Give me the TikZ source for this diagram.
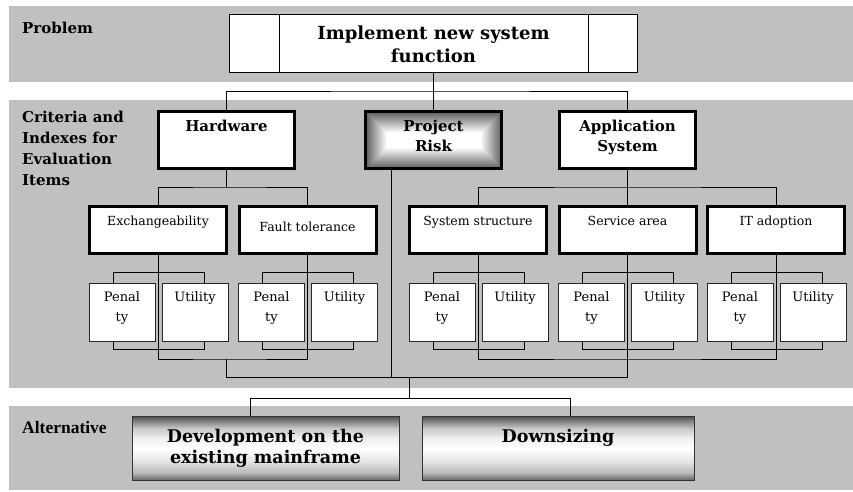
\documentclass[tikz,border=0pt]{standalone}
\usepackage{fontspec}
\setmainfont{DejaVu Serif}
\newfontfamily\altfont{Liberation Serif}
\usetikzlibrary{
    positioning,
    backgrounds
    }
\definecolor{silver}{RGB}{192,192,192}
% only the 25bp..75bp part of a shading covers the path
\pgfdeclareverticalshading{metal}{100bp}{color(0bp)=(black!62); color(25bp)=(black!62); color(31bp)=(black!28); color(40bp)=(black!10); color(50bp)=(white); color(58bp)=(black!6); color(66bp)=(black!22); color(75bp)=(black!68); color(100bp)=(black!68)}
\pgfdeclarelayer{bands}
\pgfsetlayers{bands,background,main}

\begin{document}
\begin{tikzpicture}[x=1pt, y=-1pt]
% chktex-file 1
\tikzset{band/.style = { fill=silver, draw=none } }

\tikzset{link/.style = { draw=black, line width=0.9pt } }

\tikzset{heading/.style =
        {
            anchor=base west,
            inner sep=0pt,
            align=left,
            font=\bfseries\fontsize{15}{21}\selectfont
        }
}

\tikzset{intext/.style = { anchor=base, inner sep=0pt, align=center } }

\tikzset{goal/.style =
        {
            rectangle,
            draw,
            fill=white,
            line width=0.9pt,
            minimum width=408pt,
            minimum height=58pt,
            inner sep=0pt
        }
}

\tikzset{index/.style =
        {
            rectangle,
            draw,
            fill=white,
            line width=3pt,
            minimum width=136pt,
            minimum height=57pt,
            inner sep=0pt
        }
}

% base of a two line label is the base of its last line
\tikzset{index text/.style = { intext, yshift=-41.5pt, font=\bfseries\fontsize{15}{20}\selectfont } }

\tikzset{risky/.style =
        {
            index,
            path picture={
                    \foreach \i in {0,...,29} {
                        \pgfmathtruncatemacro\p{max(0,62-3*\i)}
                        \fill[black!\p] ([shift={(\i,\i)}]path picture bounding box.north west)
                            rectangle ([shift={(-\i,-\i)}]path picture bounding box.south east);
                    }
                }
        }
}

\tikzset{item/.style = { index, minimum width=137pt, minimum height=47pt } }

\tikzset{score/.style =
        {
            rectangle,
            draw=black!85,
            fill=white,
            line width=0.9pt,
            minimum width=66pt,
            minimum height=58pt,
            inner sep=0pt
        }
}

\tikzset{score text/.style = { intext, yshift=-19pt, font=\fontsize{13}{20}\selectfont } }

\tikzset{option/.style =
        {
            rectangle,
            draw=black!80,
            line width=1pt,
            shade,
            shading=metal,
            minimum height=64pt,
            inner sep=0pt
        }
}

\tikzset{option text/.style = { intext, yshift=-26.5pt, font=\bfseries\fontsize{17.5}{21}\selectfont } }

		\useasboundingbox (0,0) rectangle (853,491);

		\begin{pgfonlayer}{bands}
			\fill[band] (9,6) rectangle (853,82);
			\fill[band] (9,100) rectangle (853,388);
			\fill[band] (9,406) rectangle (853,490);
		\end{pgfonlayer}

		\node[heading] (problem) at (22,33) {Problem};
		\node[heading] (criteria) at (22,185) {Criteria and\\Indexes for\\Evaluation\\Items};
		\node[heading, font=\altfont\bfseries\fontsize{17.5}{20}\selectfont] (alternative) at (22,433) {Alternative};

		\node[goal, label={[intext, yshift=-48.5pt, font=\bfseries\fontsize{18}{23}\selectfont]north:Implement new system\\function}] (goal) at (433.5,43.5) {};
		\draw[line width=0.9pt] ([xshift=-154.5pt]goal.north) -- ([xshift=-154.5pt]goal.south);
		\draw[line width=0.9pt] ([xshift=154.5pt]goal.north) -- ([xshift=154.5pt]goal.south);

		\node[index, label={[index text, yshift=20pt]north:Hardware}] (hw) at (226.5,140) {};
		\node[risky, label={[index text]north:Project\\Risk}] (risk) at (433.5,140) {};
		\node[index, label={[index text]north:Application\\System}] (app) at (627.5,140) {};

		\foreach \n / \c / \txt / \dy in
			{exch/158/Exchangeability/20.5,
				fault/307.5/Fault tolerance/26.5,
				sys/478/System structure/20.5,
				serv/627.5/Service area/20.5,
				it/776/IT adoption/20.5}
		{
			\node[item, label={[intext, yshift=-\dy pt, font=\fontsize{12.5}{16}\selectfont]north:\txt}] (\n) at (\c,230) {};
			\node[score, label={[score text, yshift=-20pt]north:Penal\\ty}] (\n-pen) at (\c-36,312) {};
			\node[score, label={[score text]north:Utility}] (\n-uti) at (\c+37,312) {};
		}

		\node[option, minimum width=267pt, label={[option text, yshift=-21pt]north:Development on the\\existing mainframe}] (dev) at (265.5,448.5) {};
		\node[option, minimum width=272pt, label={[option text]north:Downsizing}] (down) at (558,448.5) {};

		\begin{scope}[on background layer]
			\coordinate (top-split) at (433.5,91);
			\draw[link] (goal.south) -- (risk.north);
			\draw[link] (hw.north) |- (top-split) -| (app.north);

			\coordinate (hw-split) at (226.5,187);
			\draw[link] (hw.south) -- (hw-split);
			\draw[link] (exch.north) |- (hw-split) -| (fault.north);

			\coordinate (app-split) at (627.5,187);
			\draw[link] (app.south) -- (serv.north);
			\draw[link] (sys.north) |- (app-split) -| (it.north);

			\foreach \n in {exch, fault, sys, serv, it}
			{
				\draw[link] ([xshift=-9pt]\n-pen.north) -- ++(0,-10) -| ([xshift=9pt]\n-uti.north);
				\draw[link] ([xshift=-9pt]\n-pen.south) -- ++(0,8) -| ([xshift=9pt]\n-uti.south);
			}

			\coordinate (hw-join) at (226.5,359);
			\coordinate (app-join) at (627.5,359);
			\coordinate (all-join) at (409,377);
			\draw[link] (exch.south) |- (hw-join) -| (fault.south);
			\draw[link] (sys.south) |- (app-join) -| (it.south);
			\draw[link] (hw-join) |- (all-join) -| (serv.south);
			\draw[link] ([xshift=-42pt]risk.south) -- ([xshift=-42pt]risk.south |- all-join);

			\coordinate (alt-split) at (409,398);
			\draw[link] (all-join) -- (alt-split);
			\draw[link] ([xshift=-15pt]dev.north) |- (alt-split) -| ([xshift=12pt]down.north);
		\end{scope}

	\end{tikzpicture}
\end{document}
